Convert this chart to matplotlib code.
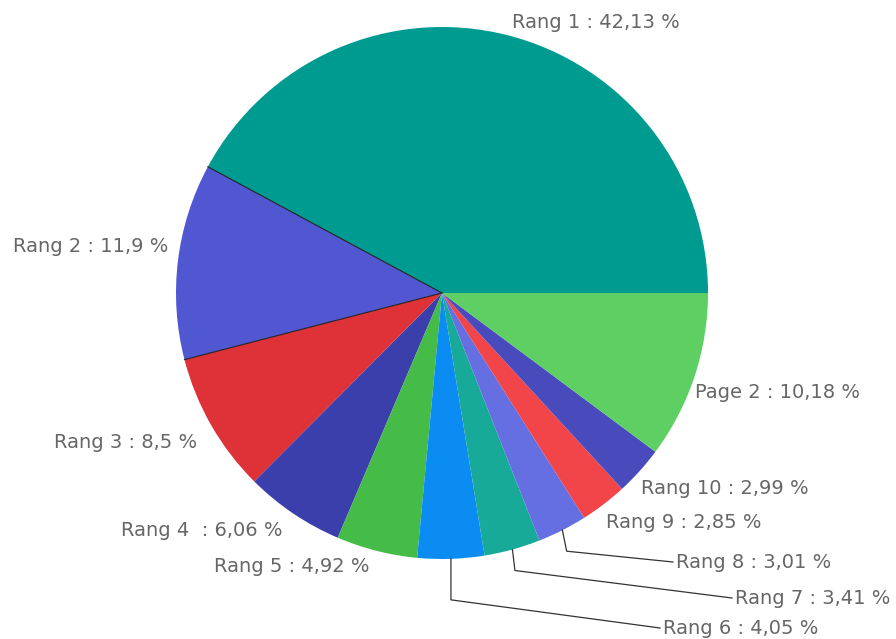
import matplotlib
matplotlib.use("Agg")
import matplotlib.pyplot as plt
import numpy as np

W, H = 896, 639

labels = ["Rang 1 : 42,13 %", "Rang 2 : 11,9 %", "Rang 3 : 8,5 %", "Rang 4  : 6,06 %",
          "Rang 5 : 4,92 %", "Rang 6 : 4,05 %", "Rang 7 : 3,41 %", "Rang 8 : 3,01 %",
          "Rang 9 : 2,85 %", "Rang 10 : 2,99 %", "Page 2 : 10,18 %"]
values = [42.13, 11.9, 8.5, 6.06, 4.92, 4.05, 3.41, 3.01, 2.85, 2.99, 10.18]
colors = ["#009b90", "#5157d1", "#de3238", "#3b3fab", "#45bb48", "#0b8cf2",
          "#17aa98", "#666fe2", "#f1454a", "#494bbd", "#5ecf62"]

# label anchor (pixel coords, y from top), alignment
label_pos = [(596, 22, "center"), (168, 247, "right"), (197, 443, "right"),
             (282, 530, "right"), (369, 567, "right"), (663, 628, "left"),
             (735, 598, "left"), (676, 562, "left"), (606, 522, "left"),
             (641, 488, "left"), (695, 393, "left")]
# leader lines: index -> length of first segment (px)
leaders = {5: 41, 6: 21, 7: 21}

cx, cy, R = 442, 293, 266

fig = plt.figure(figsize=(W / 100, H / 100), dpi=100)
ax = fig.add_axes([0, 0, 1, 1])

wedges, _ = ax.pie(values, colors=colors, startangle=0, counterclock=True,
                   center=(cx, H - cy), radius=R, frame=True,
                   wedgeprops=dict(linewidth=0))
ax.set_xlim(0, W)
ax.set_ylim(0, H)
ax.set_aspect("equal")
ax.axis("off")

# thin dark separators seen in the reference
cum = np.cumsum([0] + values)
for i in [1, 2]:
    a = np.deg2rad(cum[i] / 100 * 360)
    ax.plot([cx, cx + R * np.cos(a)], [H - cy, H - cy + R * np.sin(a)],
            color="#222222", lw=0.8)

for i, (lab, (x, y, ha)) in enumerate(zip(labels, label_pos)):
    ax.text(x, H - y, lab, ha=ha, va="center", fontsize=14, color="#666666",
            family="DejaVu Sans")
    if i in leaders:
        mid = np.deg2rad((cum[i] + values[i] / 2) / 100 * 360)
        x0, y0 = cx + R * np.cos(mid), H - cy + R * np.sin(mid)
        L = leaders[i]
        if i == 5:
            x1, y1 = x0, y0 - L
        else:
            x1, y1 = x0 + L * np.cos(mid) * 0.45, y0 - L
        ax.plot([x0, x1, x - 3], [y0, y1, H - y], color="#333333", lw=0.9)

fig.savefig("out.png", dpi=100, facecolor="white")
